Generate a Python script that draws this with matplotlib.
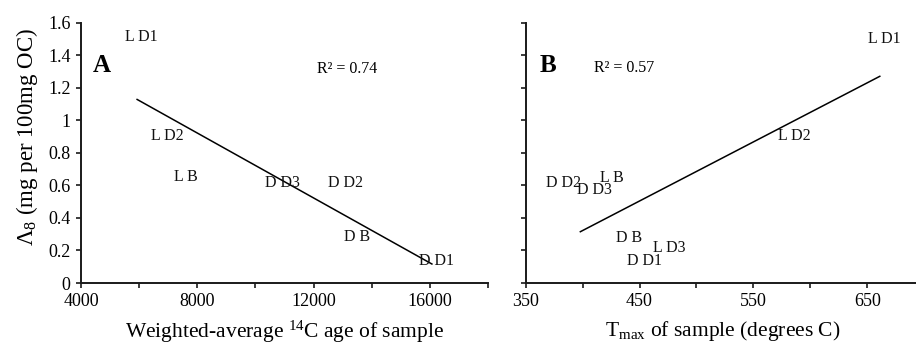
"""
Lambda-8 vs radiocarbon age (A) and Tmax (B), with linear fits.
"""

import numpy as np
import matplotlib
matplotlib.use("Agg")
import matplotlib.pyplot as plt
from matplotlib.ticker import MultipleLocator, FuncFormatter

plt.rcParams["font.family"] = ["Liberation Serif", "DejaVu Serif"]
plt.rcParams["mathtext.fontset"] = "custom"
plt.rcParams["mathtext.rm"] = "Liberation Serif"
plt.rcParams["mathtext.default"] = "regular"

# panel A: weighted-average 14C age
labels_a = ["L D1", "L D2", "L B", "D D3", "D D2", "D B", "D D1"]
age_a = [5930, 6810, 7450, 10800, 12940, 13360, 16070]
lambda_a = [1.51, 0.905, 0.654, 0.617, 0.617, 0.281, 0.137]
r2_a = "R² = 0.74"

# panel B: Tmax
labels_b = ["L D1", "L D2", "D D2", "L B", "D D3", "D B", "L D3", "D D1"]
tmax_b = [661, 582, 398, 422, 407, 437.5, 472, 451]
lambda_b = [1.50, 0.906, 0.613, 0.648, 0.572, 0.279, 0.217, 0.135]
r2_b = "R² = 0.57"

# a few labels were pulled aside in the original to avoid overlaps
label_nudge_b = {"D D2": (-12, 0)}

W, H = 916, 345
fig = plt.figure(figsize=(W / 100, H / 100), dpi=100)


def px_axes(left, right, top, bottom):
    return fig.add_axes([left / W, (H - bottom) / H, (right - left) / W, (bottom - top) / H])


ax_a = px_axes(81, 488, 22.7, 283)
ax_b = px_axes(525.7, 924.2, 22.7, 283)


def style_axes(ax):
    for side in ("top", "right"):
        ax.spines[side].set_visible(False)
    for side in ("left", "bottom"):
        ax.spines[side].set_linewidth(1.4)
        ax.spines[side].set_color("#1a1a1a")
    ax.tick_params(which="both", direction="out", length=3.5, width=1.2,
                   color="#1a1a1a", labelsize=13, pad=4)
    ax.set_ylim(0, 1.6)
    ax.yaxis.set_major_locator(MultipleLocator(0.2))


def draw_panel(ax, xs, ys, labels, nudges):
    xs = np.asarray(xs, dtype=float)
    ys = np.asarray(ys, dtype=float)
    slope, intercept = np.polyfit(xs, ys, 1)
    xfit = np.array([xs.min(), xs.max()])
    ax.plot(xfit, intercept + slope * xfit, color="black", lw=1.1, clip_on=False)
    for x, y, lab in zip(xs, ys, labels):
        dx, dy = nudges.get(lab, (3, 0))
        ax.annotate(lab, (x, y), xytext=(dx, dy), textcoords="offset points",
                    ha="center", va="center", fontsize=11.5, color="#111111")


# A
style_axes(ax_a)
ax_a.set_xlim(4000, 18000)
ax_a.xaxis.set_major_locator(MultipleLocator(2000))
ax_a.xaxis.set_major_formatter(FuncFormatter(lambda v, p: f"{v:.0f}" if v % 4000 == 0 and v < 18000 else ""))
ax_a.yaxis.set_major_formatter(FuncFormatter(lambda v, p: f"{v:.1f}".rstrip("0").rstrip(".") if v else "0"))
draw_panel(ax_a, age_a, lambda_a, labels_a, {})
ax_a.text(0.052, 0.837, "A", transform=ax_a.transAxes, fontsize=18, fontweight="bold",
          ha="center", va="center")
ax_a.text(0.653, 0.822, r2_a, transform=ax_a.transAxes, fontsize=11.5, ha="center", va="center")
ax_a.set_xlabel("Weighted-average $^{14}$C age of sample", fontsize=15.5)
ax_a.xaxis.set_label_coords(0.5, -0.138)
ax_a.set_ylabel("Λ$_{8}$ (mg per 100mg OC)", fontsize=16.5)
ax_a.yaxis.set_label_coords(-0.1, 0.56)

# B
style_axes(ax_b)
ax_b.set_xlim(350, 700)
ax_b.xaxis.set_major_locator(MultipleLocator(50))
ax_b.xaxis.set_major_formatter(FuncFormatter(lambda v, p: f"{v:.0f}" if (v - 350) % 100 == 0 and v < 700 else ""))
ax_b.set_yticklabels([])
draw_panel(ax_b, tmax_b, lambda_b, labels_b, label_nudge_b)
ax_b.text(0.056, 0.837, "B", transform=ax_b.transAxes, fontsize=18, fontweight="bold",
          ha="center", va="center")
ax_b.text(0.247, 0.826, r2_b, transform=ax_b.transAxes, fontsize=11.5, ha="center", va="center")
ax_b.set_xlabel("T$_{max}$ of sample (degrees C)", fontsize=15.5)
ax_b.xaxis.set_label_coords((722.5 - 525.7) / 398.5, -0.138)

fig.savefig("out.png", dpi=100)
